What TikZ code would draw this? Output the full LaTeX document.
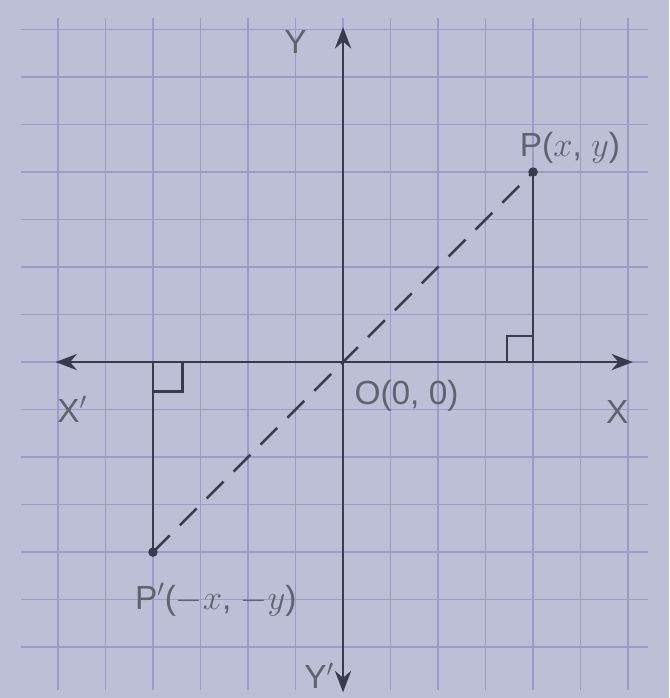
\documentclass[tikz,border=0pt]{standalone}
\usepackage{fontspec}
\setmainfont{Liberation Sans}
\usetikzlibrary{arrows.meta,positioning,calc}
\definecolor{PaperBlue}{RGB}{188,191,213}
\definecolor{GridBlue}{RGB}{154,156,196}
\definecolor{InkGray}{RGB}{56,58,78}

\begin{document}
\begin{tikzpicture}[
    axis/.style={{Stealth[length=4.5mm,width=3.4mm]}-{Stealth[length=4.5mm,width=3.4mm]}, line width=1.5pt, InkGray},
    leg/.style={line width=1.4pt, InkGray},
    lbl/.style={font=\fontsize{20}{24}\selectfont, text=InkGray!80, inner sep=1pt},
    dot/.style={circle, fill=InkGray, inner sep=0pt, minimum size=2mm}
  ]
  \fill[PaperBlue] (-7.22,-7.07) rectangle (6.86,7.62);
  \useasboundingbox (-7.22,-7.07) rectangle (6.86,7.62);
  \draw[GridBlue, line width=0.8pt] (-6.78,-6.9) grid (6.42,7.25);
  % axes
  \coordinate (O) at (0,0);
  \coordinate (xl) at (-6.05,0);
  \coordinate (xr) at (6.1,0);
  \coordinate (yt) at (0,7.05);
  \coordinate (yb) at (0,-6.95);
  \draw[axis] (xl) -- (xr);
  \draw[axis] (yb) -- (yt);
  % points and their feet
  \node[dot] (P) at (4,4) {};
  \node[dot] (Q) at (-4,-4) {};
  \coordinate (A) at (4,0);
  \coordinate (B) at (-4,0);
  \draw[leg] (P.center) -- (A);
  \draw[leg] (Q.center) -- (B);
  \draw[leg, dash pattern=on 5mm off 3mm] (Q.center) -- (P.center);
  \draw[leg] ($(A)+(-0.55,0)$) -- ++(0,0.55) -- ++(0.55,0);
  \draw[leg] ($(B)+(0.62,0)$) -- ++(0,-0.62) -- ++(-0.62,0);
  % labels
  \node[lbl] (ylab) at (-1.0,6.74) {Y};
  \node[lbl] (yplab) at (-0.5,-6.6) {Y$'$};
  \node[lbl] (xplab) at (-5.7,-1.0) {X$'$};
  \node[lbl] (xlab) at (5.77,-1.05) {X};
  \node[lbl, anchor=west] (olab) at (0.2,-0.72) {O(0, 0)};
  \node[lbl, anchor=west] (plab) at (3.68,4.5) {P($x$, $y$)};
  \node[lbl, anchor=west] (qlab) at (-4.42,-5.0) {P$'$($-x$, $-y$)};
\end{tikzpicture}
\end{document}
